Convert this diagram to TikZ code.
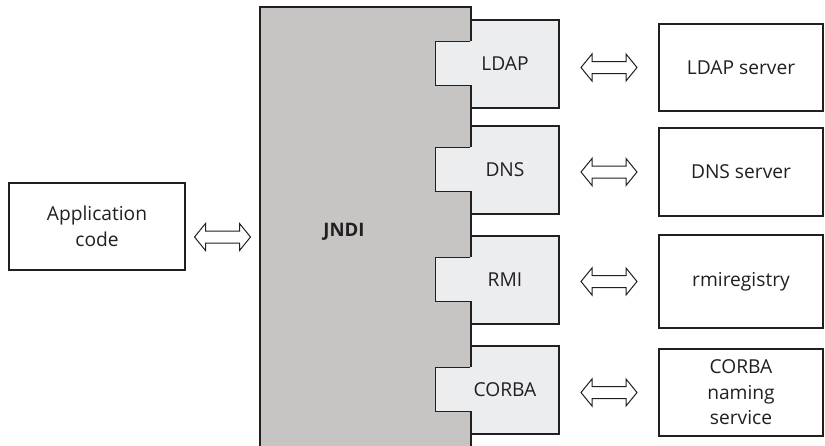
\documentclass[tikz,border=0pt]{standalone}
\usepackage{fontspec}
\setmainfont{Open Sans}
\usetikzlibrary{calc}
\definecolor{jndigrey}{HTML}{C6C5C3}
\definecolor{drvgrey}{HTML}{ECEDEF}
\definecolor{edge}{HTML}{231F20}
\definecolor{ink}{HTML}{231F20}

\begin{document}
\begin{tikzpicture}[x=1pt,y=-1pt,
  txt/.style={font=\fontsize{19.2}{25.5}\selectfont, text=ink},
  boxbase/.style={draw=edge, line width=1.1pt, inner sep=0pt, txt, align=center},
  appbox/.style={boxbase, fill=white, minimum width=176pt, minimum height=87pt},
  jndibox/.style={boxbase, fill=jndigrey, minimum width=211pt, minimum height=453pt},
  drvbox/.style={boxbase, fill=drvgrey, minimum width=88pt, minimum height=88pt},
  srvbox/.style={boxbase, fill=white, minimum width=164pt},
  tabline/.style={draw=edge, line width=1.1pt},
  arrowline/.style={draw=edge, line width=1pt, fill=white, line join=miter}
]
\useasboundingbox (0,0) rectangle (825,445);

% Client and the naming interface block
\node[appbox] (app) at (97,226.5) {Application\\code};
\node[jndibox, label={[txt, font=\fontsize{18.6}{23}\selectfont\bfseries, xshift=-21.5pt, yshift=1.5pt]center:JNDI}] (jndi) at (365.5,233.5) {};

% Service providers plugged into the block, each with a tab
\foreach \n/\t/\y in {ldap/LDAP/64, dns/DNS/170, rmi/RMI/280, corba/CORBA/390} {
  \node[drvbox, label={[txt, xshift=-10pt]center:\t}] (\n) at (515,\y) {};
  \fill[drvgrey] ($(\n.north west)+(-35,22)$) rectangle ($(\n.north west)+(1.5,66)$);
  \draw[tabline] ($(\n.north west)+(0,22)$) -- ++(-35,0) -- ++(0,44) -- ++(35,0);
}

% Back-end servers
\node[srvbox, minimum height=87pt] (ldapsrv)  at (741,67.5)  {LDAP server};
\node[srvbox, minimum height=88pt] (dnssrv)   at (741,172)   {DNS server};
\node[srvbox, minimum height=93pt] (rmisrv)   at (741,281.5) {rmiregistry};
\node[srvbox, minimum height=87pt] (corbasrv) at (741,392.5) {CORBA\\naming\\service};

% Centres of the two-way arrows
\coordinate (c0) at ($(app.east)!.5!(app.east -| jndi.west)+(0,10.5)$);
\coordinate (cldap)  at ($(ldap.east |- ldapsrv.west)!.5!(ldapsrv.west)$);
\coordinate (cdns)   at ($(dns.east |- dnssrv.west)!.5!(dnssrv.west)$);
\coordinate (crmi)   at ($(rmi.east |- rmisrv.west)!.5!(rmisrv.west)$);
\coordinate (ccorba) at ($(corba.east |- corbasrv.west)!.5!(corbasrv.west)$);

% Outlined double-headed arrows, 56 long, shaft 12, heads 27 wide
\foreach \c in {c0, cldap, cdns, crmi, ccorba}
  \draw[arrowline] ($(\c)+(-28,0)$) -- ++(11,-13.5) -- ++(0,7.5) -- ++(34,0)
    -- ++(0,-7.5) -- ++(11,13.5) -- ++(-11,13.5) -- ++(0,-7.5) -- ++(-34,0)
    -- ++(0,7.5) -- cycle;
\end{tikzpicture}
\end{document}
